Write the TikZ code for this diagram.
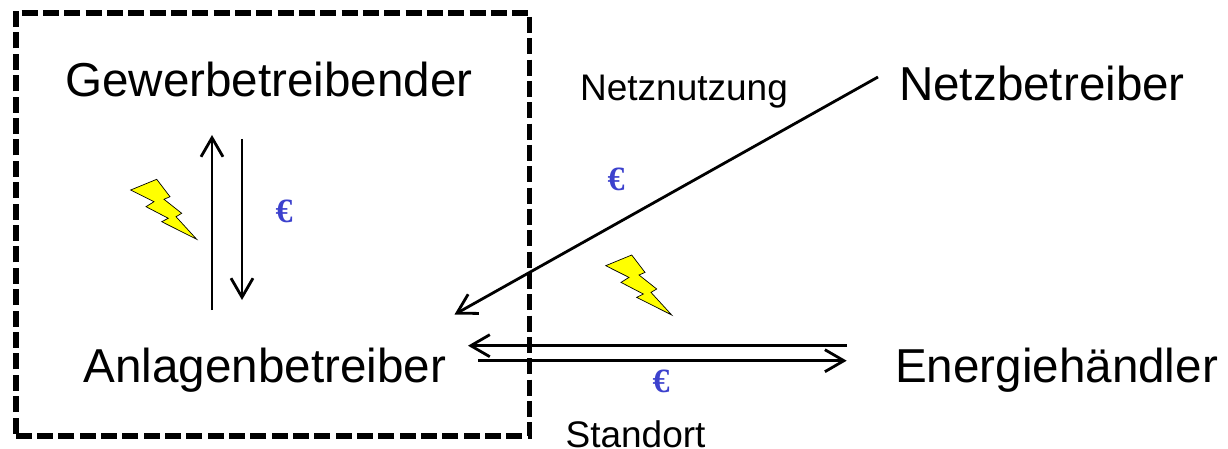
\documentclass[tikz,border=0pt]{standalone}
\usepackage{fontspec}
\setmainfont{Liberation Sans}
\newfontfamily\euroserif{Liberation Serif}
\usetikzlibrary{arrows.meta}
\definecolor{euroblue}{RGB}{60,65,205}
\definecolor{boltyellow}{RGB}{255,255,0}
\tikzset{
  x=1pt,y=-1pt,
  bigtext/.style={anchor=base,inner sep=0pt,font=\fontsize{47.6}{50}\selectfont},
  smalltext/.style={anchor=base,inner sep=0pt,font=\fontsize{37}{40}\selectfont},
  eurotext/.style={inner sep=0pt,text=euroblue,font=\euroserif\bfseries\fontsize{34}{36}\selectfont},
  flow/.style={draw=black,line width=2.8pt,-{Straight Barb[length=19pt,width=22pt,line width=2.8pt]}},
  systembox/.style={draw=black,line width=5.2pt,dash pattern=on 16pt off 5.33pt,line join=miter},
  bolt/.style={draw=black,line width=0.7pt,fill=boltyellow,line join=miter}
}
\begin{document}
\begin{tikzpicture}
\useasboundingbox (0,0) rectangle (1228,449);
\draw[systembox] (21.7,13) -- (529.7,13) -- (529.7,436) -- (15,436);
\draw[systembox,dash pattern=on 16pt off 5.39pt] (16,433.5) -- (16,10);
\node[bigtext] (gew) at (269,96.5) {Gewerbetreibender};
\node[bigtext] (anl) at (265,382) {Anlagenbetreiber};
\node[bigtext] (netz) at (1042,101) {Netzbetreiber};
\node[bigtext] (ener) at (1056.5,382) {Energiehändler};
\node[smalltext] (netznutz) at (684,101) {Netznutzung};
\node[smalltext] (standort) at (635.5,447) {Standort};
\node[eurotext] (e1) at (284,211.5) {€};
\node[eurotext] (e2) at (616,179.5) {€};
\node[eurotext] (e3) at (661,381.5) {€};
\draw[flow] ([shift={(-53,-72)}]anl.base) -- ([shift={(-57,38.5)}]gew.base);
\draw[flow] ([shift={(-27,42.5)}]gew.base) -- ([shift={(-23,-82)}]anl.base);
\draw[flow] ([shift={(-164,-24)}]netz.base) -- ([shift={(189.5,-67.5)}]anl.base);
\draw[flow] ([shift={(-209.5,-36.3)}]ener.base) -- ([shift={(203,-36.3)}]anl.base);
\draw[flow] ([shift={(213.3,-21.3)}]anl.base) -- ([shift={(-209.8,-21.3)}]ener.base);
\foreach \dx/\dy in {0/0,475/75.7}{
\draw[bolt,shift={(\dx,\dy)}] (130.7,190) -- (156.7,179.3) -- (170,196.7) -- (164,199.3) -- (181.7,213.3) -- (176,216.7) -- (196.7,239.3) -- (161.7,221.7) -- (168.3,218.3) -- (146,206.7) -- (154,201.7) -- cycle;
}
\end{tikzpicture}
\end{document}
